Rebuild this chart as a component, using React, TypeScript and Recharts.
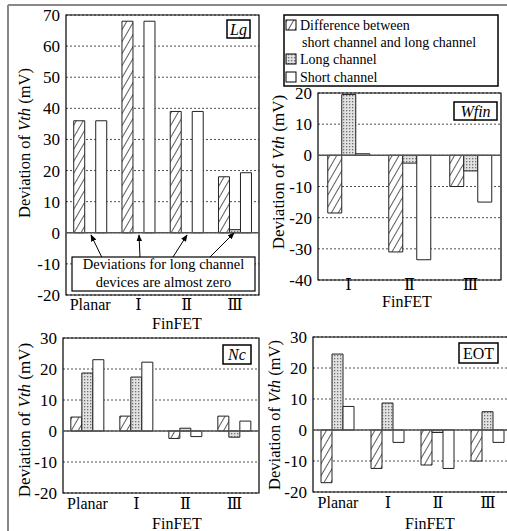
import React from 'react';
import { BarChart, Bar, XAxis, YAxis, CartesianGrid, ReferenceLine, ReferenceArea } from 'recharts';

const SERIF = '"Liberation Serif", "Times New Roman", Times, "DejaVu Serif", serif';

// Lg panel
const lgCategories = ['Planar', 'Ⅰ', 'Ⅱ', 'Ⅲ'];
const lgDiff = [36, 68, 39, 18];
const lgLong = [0, 0, 0, 1];
const lgShort = [36, 68, 39, 19.3];
const lgTicks = [-20, -10, 0, 10, 20, 30, 40, 50, 60, 70];

// Wfin panel
const wfinCategories = ['Ⅰ', 'Ⅱ', 'Ⅲ'];
const wfinDiff = [-18.5, -31, -10];
const wfinLong = [19.5, -2.5, -5];
const wfinShort = [0.5, -33.5, -15];
const wfinTicks = [-40, -30, -20, -10, 0, 10, 20];

// Nc panel
const ncCategories = ['Planar', 'Ⅰ', 'Ⅱ', 'Ⅲ'];
const ncDiff = [4.5, 4.8, -2.4, 4.8];
const ncLong = [18.7, 17.4, 0.9, -2];
const ncShort = [23, 22.2, -1.8, 3.2];
const ncTicks = [-20, -10, 0, 10, 20, 30];

// EOT panel
const eotCategories = ['Planar', 'Ⅰ', 'Ⅱ', 'Ⅲ'];
const eotDiff = [-17, -12.4, -11.3, -10];
const eotLong = [24.5, 8.7, -0.8, 5.9];
const eotShort = [7.6, -4, -12.4, -4];
const eotTicks = [-20, -10, 0, 10, 20, 30];

const build = (cats: string[], diff: number[], long: number[], short: number[]) =>
  cats.map((c, i) => ({ cat: c, diff: diff[i], long: long[i], short: short[i] }));

interface PanelProps {
  id: string;
  data: any[];
  ticks: number[];
  left: number;
  top: number;
  width: number;
  height: number;
  margin: { top: number; right: number; bottom: number; left: number };
  yWidth: number;
  xHeight: number;
  xTickMargin: number;
}

const Patterns = ({ id }: { id: string }) => (
  <defs>
    <pattern id={`hatch-${id}`} width="6" height="6" patternUnits="userSpaceOnUse" patternTransform="rotate(30)">
      <rect width="6" height="6" fill="#fff" />
      <line x1="0" y1="0" x2="0" y2="6" stroke="#333" strokeWidth="1.6" />
    </pattern>
    <pattern id={`dots-${id}`} width="3" height="3" patternUnits="userSpaceOnUse">
      <rect width="3" height="3" fill="#e2e2e2" />
      <rect width="1.3" height="1.3" fill="#707070" />
    </pattern>
  </defs>
);

const Panel: React.FC<PanelProps> = ({ id, data, ticks, left, top, width, height, margin, yWidth, xHeight, xTickMargin }) => {
  const lo = ticks[0];
  const hi = ticks[ticks.length - 1];
  return (
    <div style={{ position: 'absolute', left, top }}>
      <BarChart width={width} height={height} data={data} margin={margin} barCategoryGap="16%" barGap={0}>
        <Patterns id={id} />
        <CartesianGrid vertical={false} stroke="#222" strokeDasharray="2 2" strokeWidth={0.8} />
        <XAxis
          dataKey="cat"
          axisLine={false}
          tickLine={false}
          tickSize={0}
          tickMargin={xTickMargin}
          height={xHeight}
          interval={0}
          tick={{ fontSize: 16, fill: '#000', fontFamily: SERIF }}
        />
        <YAxis
          type="number"
          domain={[lo, hi]}
          ticks={ticks}
          width={yWidth}
          axisLine={false}
          tickLine={false}
          tickSize={0}
          tickMargin={6}
          interval={0}
          allowDataOverflow
          tick={{ fontSize: 17, fill: '#000', fontFamily: SERIF }}
        />
        <ReferenceLine y={0} stroke="#555" strokeWidth={1.5} />
        <Bar dataKey="diff" fill={`url(#hatch-${id})`} stroke="#222" strokeWidth={1} isAnimationActive={false} />
        <Bar dataKey="long" fill={`url(#dots-${id})`} stroke="#222" strokeWidth={1} isAnimationActive={false} />
        <Bar dataKey="short" fill="#fff" stroke="#222" strokeWidth={1} isAnimationActive={false} />
        <ReferenceArea y1={lo} y2={hi} fill="none" stroke="#000" strokeWidth={1.2} ifOverflow="visible" />
      </BarChart>
    </div>
  );
};

const YTitle = ({ x, y, size }: { x: number; y: number; size: number }) => (
  <text x={x} y={y} transform={`rotate(-90 ${x} ${y})`} textAnchor="middle" fontSize={size} fontFamily={SERIF} fill="#000">
    Deviation of <tspan fontStyle="italic">Vth</tspan> (mV)
  </text>
);

const Tag = ({ x, y, w, h, label, italic }: { x: number; y: number; w: number; h: number; label: string; italic?: boolean }) => (
  <g>
    <rect x={x} y={y} width={w} height={h} fill="#fff" stroke="#000" strokeWidth={1.5} />
    <text x={x + w / 2} y={y + h / 2 + 5.5} textAnchor="middle" fontSize={16} fontFamily={SERIF} fontStyle={italic ? 'italic' : 'normal'}>
      {label}
    </text>
  </g>
);

const App = () => {
  return (
    <div style={{ position: 'absolute', left: 0, top: 0, width: 507, height: 531, overflow: 'hidden', background: '#fff', fontFamily: SERIF }}>
      <Panel
        id="lg"
        data={build(lgCategories, lgDiff, lgLong, lgShort)}
        ticks={lgTicks}
        left={0}
        top={0}
        width={262}
        height={330}
        margin={{ top: 15, right: 3, bottom: 5, left: 0 }}
        yWidth={66}
        xHeight={30}
        xTickMargin={4}
      />
      <Panel
        id="wfin"
        data={build(wfinCategories, wfinDiff, wfinLong, wfinShort)}
        ticks={wfinTicks}
        left={262}
        top={80}
        width={245}
        height={220}
        margin={{ top: 13, right: 6, bottom: 0, left: 0 }}
        yWidth={56}
        xHeight={20}
        xTickMargin={-1}
      />
      <Panel
        id="nc"
        data={build(ncCategories, ncDiff, ncLong, ncShort)}
        ticks={ncTicks}
        left={0}
        top={325}
        width={262}
        height={206}
        margin={{ top: 13, right: 3, bottom: 8, left: 0 }}
        yWidth={63}
        xHeight={30}
        xTickMargin={5}
      />
      <Panel
        id="eot"
        data={build(eotCategories, eotDiff, eotLong, eotShort)}
        ticks={eotTicks}
        left={262}
        top={325}
        width={255}
        height={206}
        margin={{ top: 12, right: 4, bottom: 9, left: 0 }}
        yWidth={51}
        xHeight={30}
        xTickMargin={5}
      />
      <svg width={507} height={531} style={{ position: 'absolute', left: 0, top: 0, pointerEvents: 'none' }}>
        <defs>
          <Patterns id="legend" />
          <marker id="arrow" viewBox="0 0 10 10" refX="9" refY="5" markerWidth="7" markerHeight="7" orient="auto">
            <path d="M0,1 L10,5 L0,9 z" fill="#000" />
          </marker>
        </defs>
        {/* outer frame */}
        <line x1={8} y1={5} x2={507} y2={5} stroke="#888" strokeWidth={2} />
        <line x1={8} y1={5} x2={8} y2={531} stroke="#888" strokeWidth={2} />

        {/* axis titles */}
        <YTitle x={30} y={143} size={16.5} />
        <YTitle x={284} y={172} size={17} />
        <YTitle x={30} y={420} size={17} />
        <YTitle x={280} y={415} size={16.5} />
        <text x={177} y={329} textAnchor="middle" fontSize={16} fontFamily={SERIF}>FinFET</text>
        <text x={407} y={307} textAnchor="middle" fontSize={16} fontFamily={SERIF}>FinFET</text>
        <text x={177} y={529} textAnchor="middle" fontSize={16} fontFamily={SERIF}>FinFET</text>
        <text x={430} y={529} textAnchor="middle" fontSize={16} fontFamily={SERIF}>FinFET</text>

        {/* panel tags */}
        <Tag x={227} y={20} w={23} h={18} label="Lg" italic />
        <Tag x={454} y={102} w={43} h={18} label="Wfin" italic />
        <Tag x={223} y={345} w={28} h={19} label="Nc" italic />
        <Tag x={459} y={343} w={39} h={20} label="EOT" />

        {/* annotation */}
        <line x1={101.7} y1={257} x2={91} y2={235} stroke="#000" strokeWidth={1} markerEnd="url(#arrow)" />
        <line x1={140} y1={257} x2={139} y2={235} stroke="#000" strokeWidth={1} markerEnd="url(#arrow)" />
        <line x1={173} y1={257} x2={187} y2={235} stroke="#000" strokeWidth={1} markerEnd="url(#arrow)" />
        <line x1={210} y1={257} x2={234} y2={233} stroke="#000" strokeWidth={1} markerEnd="url(#arrow)" />
        <rect x={72} y={257} width={183} height={34} fill="#fff" stroke="#000" strokeWidth={1.2} />
        <text x={163.5} y={268.5} textAnchor="middle" fontSize={14.5} fontFamily={SERIF}>Deviations for long channel</text>
        <text x={163.5} y={286.5} textAnchor="middle" fontSize={14.5} fontFamily={SERIF}>devices are almost zero</text>

        {/* legend */}
        <rect x={284} y={15} width={214} height={71} fill="#fff" stroke="#000" strokeWidth={1.5} />
        <rect x={286} y={20} width={10} height={10} fill="url(#hatch-legend)" stroke="#000" strokeWidth={1} />
        <text x={300} y={30} fontSize={14} fontFamily={SERIF}>Difference between</text>
        <text x={302} y={47} fontSize={14} fontFamily={SERIF}>short channel and long channel</text>
        <rect x={286} y={54} width={10} height={10} fill="url(#dots-legend)" stroke="#000" strokeWidth={1} />
        <text x={300} y={64} fontSize={14} fontFamily={SERIF}>Long channel</text>
        <rect x={286} y={72} width={10} height={10} fill="#fff" stroke="#000" strokeWidth={1} />
        <text x={300} y={82} fontSize={14} fontFamily={SERIF}>Short channel</text>
      </svg>
    </div>
  );
};

export default App;
